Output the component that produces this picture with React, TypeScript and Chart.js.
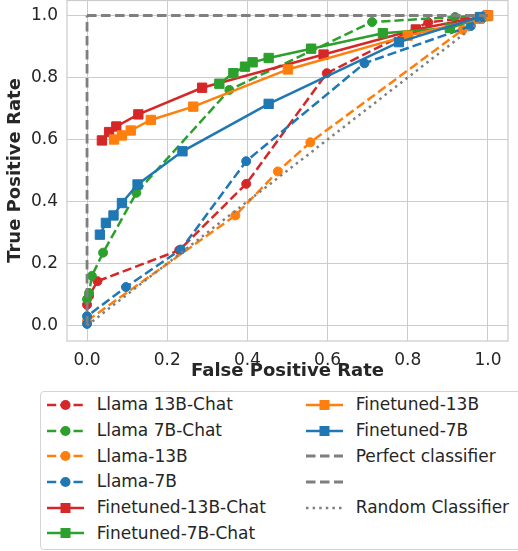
import React, { useEffect, useRef } from "react";
import { Chart, registerables } from "chart.js";

Chart.register(...registerables);

// ---- data ----
const AXIS_TICKS = [0, 0.2, 0.4, 0.6, 0.8, 1.0];

const LLAMA13B_CHAT_FPR = [0, 0.005, 0.026, 0.23, 0.397, 0.598, 0.851, 1.0];
const LLAMA13B_CHAT_TPR = [0.067, 0.095, 0.143, 0.243, 0.457, 0.814, 0.978, 1.0];

const LLAMA7B_CHAT_FPR = [0, 0.005, 0.012, 0.04, 0.123, 0.355, 0.711, 0.918, 1.0];
const LLAMA7B_CHAT_TPR = [0.085, 0.105, 0.16, 0.235, 0.428, 0.76, 0.979, 0.995, 1.0];

const LLAMA13B_FPR = [0, 0.37, 0.476, 0.557, 0.937, 1.0];
const LLAMA13B_TPR = [0.015, 0.355, 0.497, 0.591, 0.954, 1.0];

const LLAMA7B_FPR = [0, 0, 0.097, 0.234, 0.397, 0.692, 0.957, 0.985, 1.0];
const LLAMA7B_TPR = [0.005, 0.03, 0.124, 0.245, 0.53, 0.846, 0.966, 0.99, 1.0];

const FT13B_CHAT_FPR = [0.037, 0.055, 0.073, 0.128, 0.287, 0.59, 0.82, 1.0];
const FT13B_CHAT_TPR = [0.597, 0.624, 0.642, 0.681, 0.767, 0.874, 0.955, 1.0];

const FT7B_CHAT_FPR = [0.33, 0.365, 0.394, 0.413, 0.453, 0.559, 0.738, 0.905, 0.997];
const FT7B_CHAT_TPR = [0.78, 0.814, 0.835, 0.849, 0.863, 0.893, 0.943, 0.96, 0.998];

const FT13B_FPR = [0.0675, 0.087, 0.109, 0.159, 0.265, 0.501, 0.8, 0.978, 1.0];
const FT13B_TPR = [0.6, 0.613, 0.629, 0.663, 0.706, 0.826, 0.935, 0.989, 1.0];

const FT7B_FPR = [0.032, 0.047, 0.066, 0.087, 0.126, 0.238, 0.453, 0.778, 0.98];
const FT7B_TPR = [0.293, 0.331, 0.355, 0.395, 0.455, 0.562, 0.715, 0.914, 0.995];

const PERFECT_V_FPR = [0, 0];
const PERFECT_V_TPR = [0, 1];
const PERFECT_H_FPR = [0, 1];
const PERFECT_H_TPR = [1, 1];

const RANDOM_FPR = [0, 1];
const RANDOM_TPR = [0, 1];

// ---- styles ----
const RED = "#d62728";
const GREEN = "#2ca02c";
const ORANGE = "#ff7f0e";
const BLUE = "#1f77b4";
const GRAY = "#7f7f7f";
const TEXT = "#262626";
const FONT = "'DejaVu Sans', sans-serif";

type LineStyle = "dashed" | "solid" | "dotted" | "gdash";
type Marker = "circle" | "rect" | "none";

interface Series {
  label: string;
  xs: number[];
  ys: number[];
  color: string;
  style: LineStyle;
  marker: Marker;
}

const SERIES: Series[] = [
  { label: "Llama 13B-Chat", xs: LLAMA13B_CHAT_FPR, ys: LLAMA13B_CHAT_TPR, color: RED, style: "dashed", marker: "circle" },
  { label: "Llama 7B-Chat", xs: LLAMA7B_CHAT_FPR, ys: LLAMA7B_CHAT_TPR, color: GREEN, style: "dashed", marker: "circle" },
  { label: "Llama-13B", xs: LLAMA13B_FPR, ys: LLAMA13B_TPR, color: ORANGE, style: "dashed", marker: "circle" },
  { label: "Llama-7B", xs: LLAMA7B_FPR, ys: LLAMA7B_TPR, color: BLUE, style: "dashed", marker: "circle" },
  { label: "Finetuned-13B-Chat", xs: FT13B_CHAT_FPR, ys: FT13B_CHAT_TPR, color: RED, style: "solid", marker: "rect" },
  { label: "Finetuned-7B-Chat", xs: FT7B_CHAT_FPR, ys: FT7B_CHAT_TPR, color: GREEN, style: "solid", marker: "rect" },
  { label: "Finetuned-13B", xs: FT13B_FPR, ys: FT13B_TPR, color: ORANGE, style: "solid", marker: "rect" },
  { label: "Finetuned-7B", xs: FT7B_FPR, ys: FT7B_TPR, color: BLUE, style: "solid", marker: "rect" },
  { label: "Perfect classifier", xs: PERFECT_V_FPR, ys: PERFECT_V_TPR, color: GRAY, style: "gdash", marker: "none" },
  { label: "", xs: PERFECT_H_FPR, ys: PERFECT_H_TPR, color: GRAY, style: "gdash", marker: "none" },
  { label: "Random Classifier", xs: RANDOM_FPR, ys: RANDOM_TPR, color: GRAY, style: "dotted", marker: "none" },
];

function dashFor(style: LineStyle): number[] {
  if (style === "dashed") return [9.25, 4];
  if (style === "gdash") return [9.5, 4.5];
  if (style === "dotted") return [2.5, 4.1];
  return [];
}

const framePlugin = {
  id: "frame",
  beforeDatasetsDraw(chart: any) {
    const { ctx, chartArea } = chart;
    const { left, top, right, bottom } = chartArea;
    ctx.save();
    ctx.strokeStyle = "#cccccc";
    ctx.lineWidth = 1.25;
    ctx.strokeRect(left, top + 0.5, right - left, bottom - top - 0.5);
    ctx.restore();
  },
};

function LegendMarker({ s }: { s: Series }) {
  const dash = dashFor(s.style).join(" ");
  const lw = s.style === "gdash" ? 2.8 : 2.5;
  return (
    <svg width={37} height={14} style={{ display: "block" }}>
      <line
        x1={0}
        y1={7}
        x2={37}
        y2={7}
        stroke={s.color}
        strokeWidth={lw}
        strokeDasharray={dash || undefined}
      />
      {s.marker === "circle" && <circle cx={18.5} cy={7} r={5} fill={s.color} />}
      {s.marker === "rect" && <rect x={13.5} y={2} width={10} height={10} fill={s.color} />}
    </svg>
  );
}

export default function App() {
  const canvasRef = useRef<HTMLCanvasElement | null>(null);

  useEffect(() => {
    document.body.style.margin = "0";
    const canvas = canvasRef.current;
    if (!canvas) return;
    const n = SERIES.length;
    const datasets = SERIES.map((s, i) => ({
      label: s.label,
      data: s.xs.map((x, j) => ({ x, y: s.ys[j] })),
      borderColor: s.color,
      backgroundColor: s.color,
      borderWidth: s.style === "gdash" ? 2.8 : 2.5,
      borderDash: dashFor(s.style),
      pointStyle: s.marker === "none" ? "circle" : s.marker,
      pointRadius: s.marker === "none" ? 0 : s.marker === "circle" ? 4.5 : 6.6,
      pointBorderWidth: 1,
      pointBorderColor: s.color,
      pointBackgroundColor: s.color,
      tension: 0,
      fill: false,
      order: n - i,
    }));

    const chart = new Chart(canvas, {
      type: "line",
      data: { datasets },
      plugins: [framePlugin],
      options: {
        animation: false,
        responsive: false,
        devicePixelRatio: 1,
        events: [],
        layout: { autoPadding: false, padding: { left: 0, top: 0, right: 10, bottom: 0 } },
        plugins: {
          legend: { display: false },
          tooltip: { enabled: false },
        },
        scales: {
          x: {
            type: "linear",
            min: -0.05,
            max: 1.05,
            afterBuildTicks: (scale: any) => {
              scale.ticks = AXIS_TICKS.map((v) => ({ value: v }));
            },
            afterFit: (scale: any) => {
              scale.height = 49;
              scale.paddingLeft = 0;
              scale.paddingRight = 0;
            },
            ticks: {
              callback: (v: any) => Number(v).toFixed(1),
              font: { family: FONT, size: 17 },
              color: TEXT,
              padding: 9,
              maxRotation: 0,
              autoSkip: false,
            },
            grid: { color: "#cccccc", lineWidth: 1, drawTicks: false },
            border: { display: false },
            title: {
              display: true,
              text: "False Positive Rate",
              font: { family: FONT, size: 18, weight: "bold" },
              color: TEXT,
              padding: { top: 0, bottom: 8 },
            },
          },
          y: {
            type: "linear",
            min: -0.05,
            max: 1.05,
            afterBuildTicks: (scale: any) => {
              scale.ticks = AXIS_TICKS.map((v) => ({ value: v }));
            },
            afterFit: (scale: any) => {
              scale.width = 67;
              scale.paddingTop = 0;
              scale.paddingBottom = 0;
            },
            ticks: {
              callback: (v: any) => Number(v).toFixed(1),
              font: { family: FONT, size: 17 },
              color: TEXT,
              padding: 9,
              autoSkip: false,
            },
            grid: { color: "#cccccc", lineWidth: 1, drawTicks: false },
            border: { display: false },
            title: {
              display: true,
              text: "True Positive Rate",
              font: { family: FONT, size: 18, weight: "bold" },
              color: TEXT,
              padding: { top: 5, bottom: 0 },
            },
          },
        },
      } as any,
    });
    return () => chart.destroy();
  }, []);

  const col1 = SERIES.slice(0, 6);
  const col2 = SERIES.slice(6);
  const rowH = 25.7;

  const renderItem = (s: Series, idx: number, col: number) => (
    <div
      key={col + "-" + idx}
      style={{
        position: "absolute",
        left: col === 0 ? 5.7 : 264.7,
        top: 13 + idx * rowH - rowH / 2,
        height: rowH,
        display: "flex",
        alignItems: "center",
        whiteSpace: "nowrap",
      }}
    >
      <LegendMarker s={s} />
      <span
        style={{
          marginLeft: 13,
          fontFamily: FONT,
          fontSize: 17,
          color: TEXT,
          lineHeight: rowH + "px",
        }}
      >
        {s.label}
      </span>
    </div>
  );

  return (
    <div
      style={{
        position: "fixed",
        left: 0,
        top: 0,
        width: 518,
        height: 551,
        overflow: "hidden",
        background: "#ffffff",
      }}
    >
      <canvas
        ref={canvasRef}
        width={518}
        height={390}
        style={{ position: "absolute", left: 0, top: 0, width: 518, height: 390 }}
      />
      <div
        style={{
          position: "absolute",
          left: 40,
          top: 391,
          width: 500,
          height: 157,
          border: "1px solid #d5d5d5",
          borderRadius: 4,
          background: "#ffffff",
        }}
      >
        {col1.map((s, i) => renderItem(s, i, 0))}
        {col2.map((s, i) => renderItem(s, i, 1))}
      </div>
    </div>
  );
}
